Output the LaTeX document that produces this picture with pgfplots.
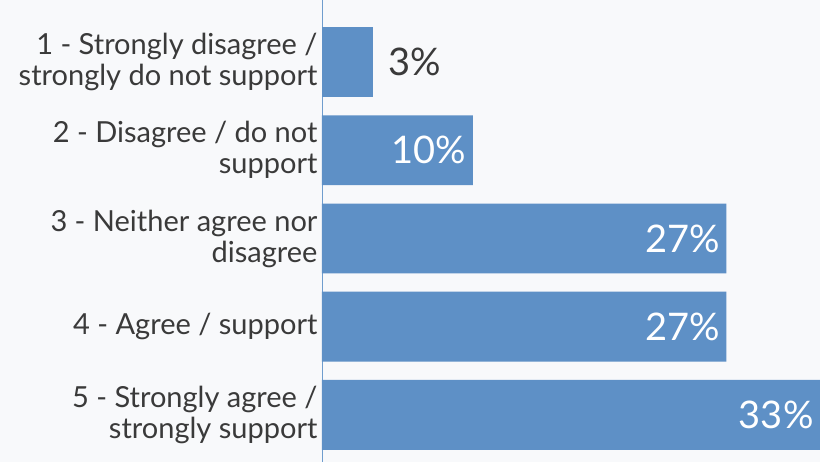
\documentclass[border=0pt]{standalone}
\usepackage{pgfplots}
\pgfplotsset{compat=1.18}
\usepackage{fontspec}
\setmainfont{Lato}
\definecolor{barc}{HTML}{5E90C6}
\definecolor{bg}{HTML}{F8F9FB}
\definecolor{txt}{HTML}{3A3A3A}
\definecolor{axc}{HTML}{6F9DCE}
\begin{document}
\begin{tikzpicture}
\fill[bg] (0,0) rectangle (820pt,462pt);
\begin{axis}[
  at={(322pt,0pt)}, anchor=south west,
  scale only axis, width=498pt, height=462pt,
  xbar, bar shift=0pt, bar width=0.793,
  xmin=0, xmax=33, ymin=0.297, ymax=5.533, y dir=reverse,
  axis x line=none, axis y line*=left,
  y axis line style={draw=axc, line width=0.8pt},
  ytick={1,2,3,4,5},
  yticklabels={{1 - Strongly disagree /\\strongly do not support},
               {2 - Disagree / do not\\support},
               {3 - Neither agree nor\\disagree},
               {4 - Agree / support},
               {5 - Strongly agree /\\strongly support}},
  yticklabel style={align=right, text=txt, font=\fontsize{29}{31}\selectfont, xshift=-1pt},
  major tick length=0pt,
  clip=false,
]
\addplot[fill=barc, draw=none, point meta=explicit symbolic, nodes near coords,
  nodes near coords style={anchor=east, xshift=-3pt, text=white, font=\fontsize{38}{38}\selectfont}]
  coordinates {(10,2) [10\%] (26.8,3) [27\%] (26.8,4) [27\%] (33,5) [33\%]};
\addplot[fill=barc, draw=none, point meta=explicit symbolic, nodes near coords,
  nodes near coords style={anchor=west, xshift=12pt, text=txt, font=\fontsize{38}{38}\selectfont}]
  coordinates {(3.4,1) [3\%]};
\end{axis}
\pgfresetboundingbox
\path (0,0) rectangle (820pt,462pt);
\end{tikzpicture}
\end{document}
